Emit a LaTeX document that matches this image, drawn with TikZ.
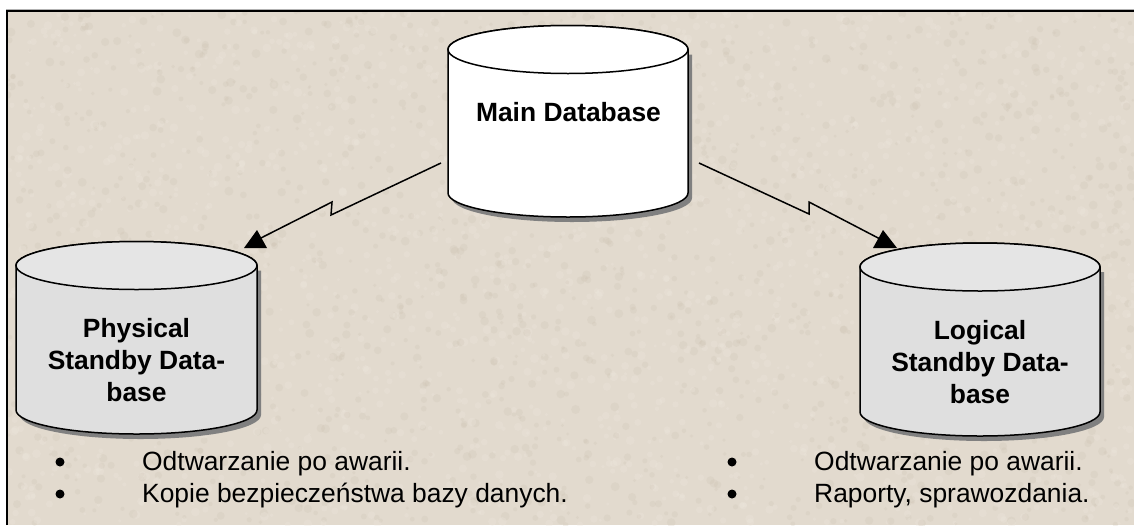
\documentclass[tikz,border=0pt]{standalone}
\usepackage{fontspec}
\setmainfont{Liberation Sans}
\usetikzlibrary{calc}
\definecolor{paper}{HTML}{E2DACE}
\definecolor{speckD}{HTML}{CBC0AF}
\definecolor{speckL}{HTML}{EDE7DD}
\definecolor{standby}{HTML}{DFDFDF}
\definecolor{shadowgray}{HTML}{808080}
\tikzset{
  x=1pt,y=-1pt,
  conn/.style={draw=black,line width=1.5pt,line join=miter},
  tipfill/.style={fill=black},
  dbtext/.style={font=\fontsize{26.4}{32}\selectfont\bfseries,align=center,text=black,inner sep=0pt},
  listtext/.style={font=\fontsize{26.4}{32}\selectfont,anchor=base west,text=black,inner sep=0pt},
  bulletdot/.style={circle,fill=black,minimum size=9pt,inner sep=0pt},
  dbline/.style={draw=black,line width=1.5pt},
}
% cylinder: #1 left x, #2 right x, #3 ellipse centre y, #4 side bottom y, #5 fill
\newcommand{\dbcyl}[5]{%
  \pgfmathsetmacro{\cx}{(#1+#2)/2}%
  \pgfmathsetmacro{\rx}{(#2-#1)/2}%
  \fill[shadowgray,shift={(4,5)}] (#1,#3) -- (#1,#4) arc[start angle=180,end angle=360,x radius=\rx,y radius=-24] -- (#2,#3) -- cycle;
  \path[dbline,fill=#5] (#1,#3) -- (#1,#4) arc[start angle=180,end angle=360,x radius=\rx,y radius=-24] -- (#2,#3) arc[start angle=0,end angle=180,x radius=\rx,y radius=-24] -- cycle;
  \path[dbline,fill=#5!80!white] (\cx,#3) ellipse[x radius=\rx,y radius=24];
}
\begin{document}
\begin{tikzpicture}
\useasboundingbox (0,0) rectangle (1134,525);
\fill[white] (0,0) rectangle (1134,525);
\fill[paper] (7,11) rectangle (1134,525);
% paper texture
\pgfmathsetseed{4242}
\begin{scope}
\clip (7,11) rectangle (1134,525);
\foreach \i in {1,...,3500}{
  \pgfmathsetmacro{\px}{7+rnd*1127}
  \pgfmathsetmacro{\py}{11+rnd*514}
  \pgfmathsetmacro{\pr}{1.5+rnd*3}
  \pgfmathtruncatemacro{\pc}{rnd<0.45?1:0}
  \ifnum\pc=1
    \fill[speckD,opacity=.22] (\px,\py) circle[radius=\pr];
  \else
    \fill[speckL,opacity=.3] (\px,\py) circle[radius=\pr];
  \fi
}
\end{scope}
\draw[gray!60,line width=1pt] (6,9.5) -- (1134,9.5);
\draw[black,line width=2pt] (7,525) -- (7,11) -- (1134,11);

\dbcyl{448}{688}{49.5}{193}{white}
\dbcyl{16}{257}{265.5}{410}{standby}
\dbcyl{860}{1100}{267}{412}{standby}

\node[dbtext] (mainDb) at (568.5,112) {Main Database};
\node[dbtext] (physDb) at (136.5,360) {Physical\\Standby Data-\\base};
\node[dbtext] (logDb) at (980,362) {Logical\\Standby Data-\\base};

% connectors
\coordinate (mL) at (441,163);
\coordinate (kL1) at (331,215);
\coordinate (kL2) at (332,202);
\coordinate (tL) at (257,240);
\coordinate (mR) at (699,163);
\coordinate (kR1) at (809,214);
\coordinate (kR2) at (809,202);
\coordinate (tR) at (882,240);
\draw[conn] (mL) -- (kL1) -- (kL2) -- (tL);
\draw[conn] (mR) -- (kR1) -- (kR2) -- (tR);
\fill[tipfill] (257,230) -- (244,248) -- (267,248) -- cycle;
\fill[tipfill] (883,230) -- (873,248) -- (897,248) -- cycle;

% lists
\node[bulletdot] (b1) at (60,462) {};
\node[bulletdot] (b2) at (60,494) {};
\node[listtext] (t1) at (142,470) {Odtwarzanie po awarii.};
\node[listtext] (t2) at (142,502) {Kopie bezpieczeństwa bazy danych.};
\node[bulletdot] (b3) at (732,462) {};
\node[bulletdot] (b4) at (732,494) {};
\node[listtext] (t3) at (814,470) {Odtwarzanie po awarii.};
\node[listtext] (t4) at (814,502) {Raporty, sprawozdania.};
\end{tikzpicture}
\end{document}
